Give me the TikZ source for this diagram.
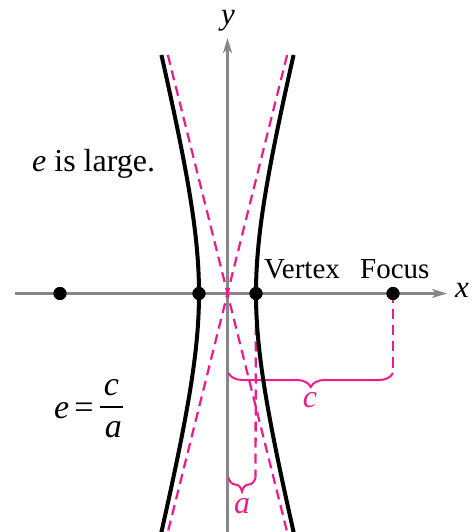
\documentclass[tikz,border=0pt]{standalone}
\usepackage{fontspec}
\setmainfont{Liberation Serif}
\usetikzlibrary{arrows.meta,decorations.pathreplacing}
\definecolor{hpink}{RGB}{233,30,140}
\definecolor{axgray}{RGB}{135,135,135}
\begin{document}
\begin{tikzpicture}[x=1pt,y=1pt,
 axisline/.style={draw=axgray, line width=2.2pt, -{Stealth[length=15pt,width=9pt,inset=4pt]}},
 asym/.style={draw=hpink, line width=2.3pt, dash pattern=on 10pt off 6pt},
 hyp/.style={draw=black, line width=4pt},
 dotnode/.style={circle, fill=black, minimum size=13pt, inner sep=0pt},
 bigtext/.style={font=\fontsize{32}{38}\selectfont, inner sep=0pt},
 lbl/.style={font=\fontsize{29}{35}\selectfont, inner sep=0pt},
 axlbl/.style={font=\fontsize{31}{37}\selectfont\itshape, inner sep=0pt},
 eqtext/.style={font=\fontsize{34}{40}\selectfont, inner sep=0pt},
 pinklbl/.style={font=\fontsize{32}{38}\selectfont\itshape, text=hpink, inner sep=0pt},
 bracestyle/.style={draw=hpink, line width=2pt, decorate, decoration={brace, mirror, amplitude=14pt}}
]
\useasboundingbox (-227.5,-238.5) rectangle (243.5,293.5);

% axes
\coordinate (xs) at (-212.5,0);
\coordinate (xe) at (219.5,0);
\coordinate (ys) at (0,-245);
\coordinate (ye) at (0,255.5);
\draw[axisline] (xs) -- (xe);
\draw[axisline] (ys) -- (ye);

% asymptotes
\coordinate (a1s) at (-59.625,238.5);
\coordinate (a1e) at (61.25,-245);
\coordinate (a2s) at (59.625,238.5);
\coordinate (a2e) at (-61.25,-245);
\draw[asym] (a1s) -- (a1e);
\draw[asym] (a2s) -- (a2e);

% points
\node[dotnode] (F1) at (-167.5,0) {};
\node[dotnode] (V1) at (-28.5,0) {};
\node[dotnode] (V2) at (28.5,0) {};
\node[dotnode] (F2) at (165.5,0) {};

% dashed drops and braces
\coordinate (cL) at (1,-79.5);
\coordinate (cR) at (165.5,-79.5);
\coordinate (aL) at (1,-184);
\coordinate (aR) at (28,-184);
\draw[asym] (F2.center) -- (cR);
\draw[asym] (V2.center) -- (aR);
\draw[bracestyle] (cL) -- (cR);
\draw[bracestyle] (aL) -- (aR);

% hyperbola
\draw[hyp] plot[domain=-245:238.5, samples=80, smooth] ({28.5*sqrt(1+(\x/114)^2)}, \x);
\draw[hyp] plot[domain=-245:238.5, samples=80, smooth] ({-28.5*sqrt(1+(\x/114)^2)}, \x);

% dots on top
\fill (F1) circle (6.5pt);
\fill (V1) circle (6.5pt);
\fill (V2) circle (6.5pt);
\fill (F2) circle (6.5pt);

% labels
\node[bigtext, anchor=base west] (large) at (-195.5,121.5) {\textit{e} is large.};
\node[lbl, anchor=base west] (vlab) at (36.5,14.5) {Vertex};
\node[lbl, anchor=base west] (flab) at (132.5,14.5) {Focus};
\node[axlbl, anchor=base] (xlab) at (234.5,-4.5) {x};
\node[axlbl, anchor=base] (ylab) at (0.5,268.5) {y};
\node[pinklbl, anchor=base] (clab) at (82.5,-113.5) {c};
\node[pinklbl, anchor=base] (alab) at (14.5,-219.5) {a};

% e = c/a
\node[eqtext, anchor=base west] (ee) at (-173.5,-124.5) {\textit{e}};
\node[eqtext, anchor=base] (eqs) at (-143.5,-124.5) {=};
\node[eqtext, anchor=base] (num) at (-116,-101.5) {\textit{c}};
\node[eqtext, anchor=base] (den) at (-114,-143.5) {\textit{a}};
\coordinate (barL) at (-127.5,-113.5);
\coordinate (barR) at (-104.5,-113.5);
\draw[line width=1.6pt] (barL) -- (barR);
\end{tikzpicture}
\end{document}
